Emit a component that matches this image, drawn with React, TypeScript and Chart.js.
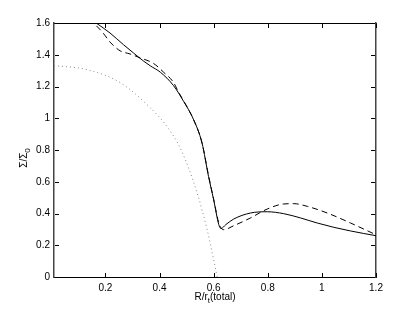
import React, { useEffect, useRef } from "react";
import { Chart, registerables } from "chart.js";

Chart.register(...registerables);

const solidX = [0.15, 0.166, 0.217, 0.267, 0.304, 0.341, 0.366, 0.403, 0.452, 0.489, 0.526, 0.557, 0.581, 0.6, 0.619, 0.627, 0.645, 0.674, 0.736, 0.798, 0.859, 0.921, 0.983, 1.044, 1.106, 1.2];
const solidY = [1.62, 1.6, 1.537, 1.463, 1.411, 1.36, 1.33, 1.29, 1.205, 1.106, 0.991, 0.844, 0.634, 0.487, 0.33, 0.305, 0.33, 0.365, 0.403, 0.411, 0.399, 0.372, 0.34, 0.313, 0.29, 0.26];

const dashX = [0.14, 0.156, 0.19, 0.217, 0.254, 0.291, 0.329, 0.378, 0.415, 0.452, 0.47, 0.489, 0.526, 0.557, 0.581, 0.6, 0.62, 0.637, 0.674, 0.736, 0.798, 0.859, 0.896, 0.946, 1.02, 1.106, 1.2];
const dashY = [1.624, 1.6, 1.54, 1.48, 1.425, 1.405, 1.38, 1.345, 1.29, 1.225, 1.165, 1.11, 0.99, 0.845, 0.64, 0.49, 0.335, 0.298, 0.323, 0.372, 0.428, 0.46, 0.462, 0.445, 0.403, 0.34, 0.266];

const dotX = [0.01, 0.133, 0.257, 0.366, 0.427, 0.48, 0.539, 0.576, 0.6, 0.613];
const dotY = [1.332, 1.306, 1.222, 1.065, 0.949, 0.8, 0.529, 0.298, 0.109, 0.0];

const xTicks = [0.2, 0.4, 0.6, 0.8, 1.0, 1.2];
const yTicks = [0, 0.2, 0.4, 0.6, 0.8, 1.0, 1.2, 1.4, 1.6];

const xMin = 0.01;
const xMax = 1.2;
const yMin = 0;
const yMax = 1.6;

const toPts = (xs: number[], ys: number[]) => xs.map((x, i) => ({ x, y: ys[i] }));

const FONT = "'Liberation Sans', Arial, Helvetica, sans-serif";

const framePlugin = {
  id: "frame",
  afterDraw(chart: any) {
    const ctx = chart.ctx as CanvasRenderingContext2D;
    const ca = chart.chartArea;
    const left = ca.left;
    const right = ca.right;
    const top = ca.top;
    const bottom = ca.bottom;
    const xs = chart.scales.x;
    const ys = chart.scales.y;
    ctx.save();
    ctx.setLineDash([]);
    ctx.fillStyle = "#000";
    const tl = 4;
    xTicks.forEach((t) => {
      const px = Math.round(xs.getPixelForValue(t));
      ctx.fillRect(px, bottom - tl, 1, tl);
      ctx.fillRect(px, top + 1, 1, tl);
    });
    yTicks.forEach((t) => {
      const py = Math.round(ys.getPixelForValue(t));
      ctx.fillRect(left + 1, py, tl, 1);
      ctx.fillRect(right - 1 - tl, py, tl, 1);
    });

    // x axis title: R/r_t(total)
    ctx.fillStyle = "#000";
    ctx.textBaseline = "alphabetic";
    ctx.textAlign = "left";
    const big = `10px ${FONT}`;
    const small = `8px ${FONT}`;
    ctx.font = big;
    const p1 = "R/r";
    const p3 = "(total)";
    const w1 = ctx.measureText(p1).width;
    const w3 = ctx.measureText(p3).width;
    ctx.font = small;
    const w2 = ctx.measureText("t").width;
    const total = w1 + w2 + w3;
    const cx = (left + right) / 2;
    const x0 = cx - total / 2;
    const base = 300;
    ctx.font = big;
    ctx.fillText(p1, x0, base);
    ctx.font = small;
    ctx.fillText("t", x0 + w1, base + 3);
    ctx.font = big;
    ctx.fillText(p3, x0 + w1 + w2, base);

    // y axis title: Σ/Σ_0
    ctx.save();
    ctx.translate(27, (top + bottom) / 2 + 8);
    ctx.rotate(-Math.PI / 2);
    ctx.font = big;
    const q1 = "Σ/Σ";
    const qw1 = ctx.measureText(q1).width;
    ctx.font = small;
    const qw2 = ctx.measureText("0").width;
    const qt = qw1 + qw2;
    ctx.font = big;
    ctx.fillText(q1, -qt / 2, 0);
    ctx.font = small;
    ctx.fillText("0", -qt / 2 + qw1, 3);
    ctx.restore();

    ctx.restore();
  },
};

const tickFmt = (v: any) => String(Number(Number(v).toFixed(1)));

export default function App() {
  const ref = useRef<HTMLCanvasElement | null>(null);
  useEffect(() => {
    document.body.style.margin = "0";
    const canvas = ref.current;
    if (!canvas) return;
    const chart = new Chart(canvas, {
      type: "scatter",
      data: {
        datasets: [
          {
            label: "solid",
            data: toPts(solidX, solidY),
            showLine: true,
            borderColor: "#000",
            borderWidth: 1,
            pointRadius: 0,
            cubicInterpolationMode: "monotone",
          },
          {
            label: "dashed",
            data: toPts(dashX, dashY),
            showLine: true,
            borderColor: "#000",
            borderWidth: 1,
            borderDash: [6, 4],
            pointRadius: 0,
            cubicInterpolationMode: "monotone",
          },
          {
            label: "dotted",
            data: toPts(dotX, dotY),
            showLine: true,
            borderColor: "#888",
            borderWidth: 1,
            borderDash: [1, 3],
            pointRadius: 0,
            cubicInterpolationMode: "monotone",
          },
        ],
      },
      options: {
        animation: false,
        responsive: false,
        devicePixelRatio: 1,
        layout: { padding: { left: 0, top: 23, right: 39, bottom: 0 } },
        plugins: {
          legend: { display: false },
          tooltip: { enabled: false },
        },
        scales: {
          x: {
            type: "linear",
            position: "bottom",
            min: xMin,
            max: xMax,
            grid: { display: false, drawTicks: false },
            border: { display: true, color: "#000", width: 1 },
            afterBuildTicks: (s: any) => {
              s.ticks = xTicks.map((v) => ({ value: v }));
            },
            afterFit: (s: any) => {
              s.height = 35;
            },
            ticks: {
              padding: 5,
              color: "#000",
              font: { family: FONT, size: 10 },
              maxRotation: 0,
              autoSkip: false,
              callback: tickFmt,
            },
          },
          x2: {
            type: "linear",
            position: "top",
            min: xMin,
            max: xMax,
            grid: { display: false, drawTicks: false },
            border: { display: true, color: "#000", width: 1 },
            ticks: { display: false },
            afterFit: (s: any) => {
              s.height = 0;
            },
          },
          y: {
            type: "linear",
            position: "left",
            min: yMin,
            max: yMax,
            grid: { display: false, drawTicks: false },
            border: { display: true, color: "#444", width: 1.5 },
            afterBuildTicks: (s: any) => {
              s.ticks = yTicks.map((v) => ({ value: v }));
            },
            afterFit: (s: any) => {
              s.width = 54;
            },
            ticks: {
              padding: 4,
              color: "#000",
              font: { family: FONT, size: 10 },
              autoSkip: false,
              callback: tickFmt,
            },
          },
          y2: {
            type: "linear",
            position: "right",
            min: yMin,
            max: yMax,
            grid: { display: false, drawTicks: false },
            border: { display: true, color: "#444", width: 1.5 },
            ticks: { display: false },
            afterFit: (s: any) => {
              s.width = 0;
            },
          },
        },
      },
      plugins: [framePlugin],
    } as any);
    return () => chart.destroy();
  }, []);
  return (
    <div style={{ position: "absolute", left: 0, top: 0, width: 415, height: 312, background: "#fff" }}>
      <canvas ref={ref} width={415} height={312} style={{ width: 415, height: 312, display: "block" }} />
    </div>
  );
}
